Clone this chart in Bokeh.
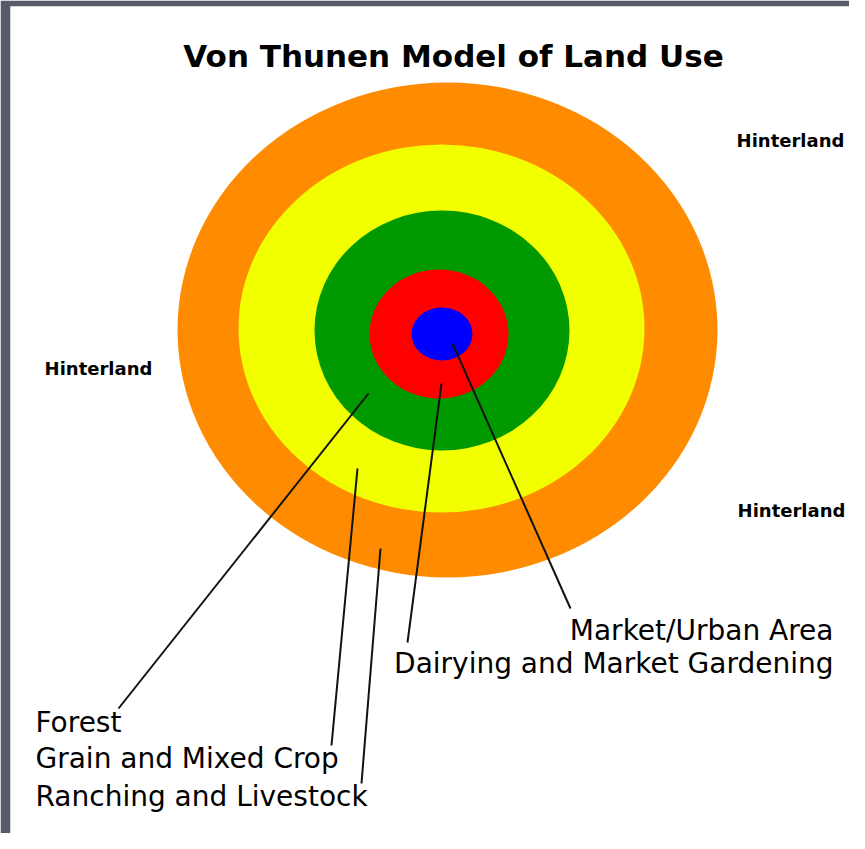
from bokeh.plotting import figure
from bokeh.models import Range1d, ColumnDataSource
from bokeh.core.properties import value
from bokeh.embed import file_html
from bokeh.resources import INLINE

# ---- data ----
zones = ["Ranching and Livestock", "Grain and Mixed Crop", "Forest",
         "Dairying and Market Gardening", "Market/Urban Area"]
zone_colors = ["#FF8C00", "#F2FF00", "#009A00", "#FF0000", "#0000FF"]
zone_width = [540, 406, 255, 139, 61]     # ring diameters (x)
zone_height = [495, 368, 240, 129, 53]    # ring diameters (y)
zone_cx = [6, 0, 0.5, -2.5, 0.5]
zone_cy = [0.5, 2, 0, -3.5, -3.5]

title = "Von Thunen Model of Land Use"
hinterland = ["Hinterland", "Hinterland", "Hinterland"]

# leader lines: start inside zone, end at label
lead_zone = ["Forest", "Grain and Mixed Crop", "Ranching and Livestock",
             "Dairying and Market Gardening", "Market/Urban Area"]
lead_x0 = [-73, -84, -61, 0, 11]
lead_y0 = [-63, -138, -218, -53, -13]
lead_x1 = [-323, -110, -80, -34, 129]
lead_y1 = [-378, -415, -453, -312, -278]

left_labels = ["Forest", "Grain and Mixed Crop", "Ranching and Livestock"]
right_labels = ["Market/Urban Area", "Dairying and Market Gardening"]

# ---- figure ----
W, H = 849, 833
p = figure(width=W, height=H, output_backend="svg", toolbar_location=None,
           x_range=Range1d(-431, 408), y_range=Range1d(-503, 324),
           min_border=0, min_border_left=10, min_border_top=6,
           x_axis_location=None, y_axis_location=None,
           background_fill_color="white", border_fill_color="#575A68")
p.outline_line_color = None
p.grid.visible = False

src = ColumnDataSource(dict(x=zone_cx, y=zone_cy, w=zone_width, h=zone_height,
                            c=zone_colors, name=zones))
p.ellipse(x="x", y="y", width="w", height="h", fill_color="c",
          line_color=None, source=src)

p.segment(x0=lead_x0, y0=lead_y0, x1=lead_x1, y1=lead_y1,
          line_color="#111111", line_width=2)

# title
p.text(x=[12], y=[275], text=[title], text_font=value("DejaVu Sans"),
       text_font_style="bold", text_font_size="31px", text_align="center",
       text_baseline="middle", text_color="black")

# hinterland
p.text(x=[349, -343, 350], y=[190, -38, -180], text=hinterland,
       text_font=value("DejaVu Sans"), text_font_style="bold",
       text_font_size="18px", text_align="center", text_baseline="middle",
       text_color="black")

# zone labels
p.text(x=[-406] * 3, y=[-392, -428, -466], text=left_labels,
       text_font=value("DejaVu Sans"), text_font_size="28px",
       text_align="left", text_baseline="middle", text_color="black")
p.text(x=[392] * 2, y=[-300, -333], text=right_labels,
       text_font=value("DejaVu Sans"), text_font_size="28px",
       text_align="right", text_baseline="middle", text_color="black")

open("out.html", "w").write(file_html(p, INLINE))
